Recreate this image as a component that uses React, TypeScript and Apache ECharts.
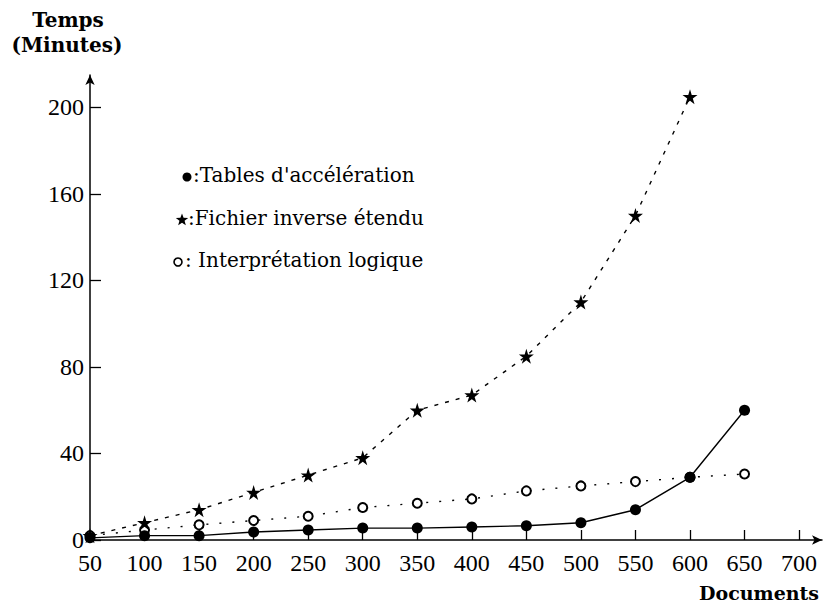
import React, { useEffect, useRef } from "react";
import * as echarts from "echarts";

const docs = [50, 100, 150, 200, 250, 300, 350, 400, 450, 500, 550, 600, 650];
const tablesAcceleration = [1, 2, 2, 3.7, 4.6, 5.5, 5.5, 6, 6.6, 8, 14, 29, 60];
const fichierInverse = [2, 8, 14, 22, 30, 38, 60, 67, 85, 110, 150, 205];
const interpretationLogique = [2, 4.6, 7, 9, 11, 15, 17, 19, 22.7, 25, 27, 29, 30.5];
const xTicks = [50, 100, 150, 200, 250, 300, 350, 400, 450, 500, 550, 600, 650, 700];
const yTicks = [0, 40, 80, 120, 160, 200];
const legendNames = [":Tables d'accélération", ":Fichier inverse étendu", ": Interprétation logique"];

const STAR = "path://M50,0 L61,35 L98,35 L68,57 L79,91 L50,70 L21,91 L32,57 L2,35 L39,35 Z";

function starPoints(cx: number, cy: number, R: number, r: number): number[][] {
  const pts: number[][] = [];
  for (let i = 0; i < 10; i++) {
    const a = -Math.PI / 2 + (i * Math.PI) / 5;
    const rad = i % 2 === 0 ? R : r;
    pts.push([cx + rad * Math.cos(a), cy + rad * Math.sin(a)]);
  }
  return pts;
}

export default function App() {
  const ref = useRef<HTMLDivElement>(null);
  useEffect(() => {
    if (!ref.current) return;
    const chart = echarts.init(ref.current, null, { renderer: "svg" });
    const tickFont = { fontFamily: "Liberation Serif", fontSize: 24, color: "#000" };
    const legStyle = { fontFamily: "DejaVu Serif", fontSize: 20, fill: "#000", verticalAlign: "middle" };
    const titleStyle = { fontFamily: "DejaVu Serif", fontWeight: "bold", fontSize: 20, fill: "#000", align: "center", verticalAlign: "middle" };
    chart.setOption({
      animation: false,
      backgroundColor: "#fff",
      grid: { left: 90, right: 5, top: 75, bottom: 68, containLabel: false, outerBoundsMode: "none" },
      xAxis: {
        type: "value",
        min: 50,
        max: 721,
        splitLine: { show: false },
        axisLine: {
          onZero: false,
          lineStyle: { color: "#000", width: 1.5 },
          symbol: ["none", "arrow"],
          symbolSize: [7, 10],
        },
        axisTick: { inside: true, length: 10, customValues: xTicks, lineStyle: { color: "#000", width: 1.3 } },
        axisLabel: { customValues: xTicks, margin: 11, ...tickFont },
      },
      yAxis: {
        type: "value",
        min: 0,
        max: 215,
        splitLine: { show: false },
        axisLine: {
          show: true,
          onZero: false,
          lineStyle: { color: "#000", width: 1.5 },
          symbol: ["none", "arrow"],
          symbolSize: [7, 10],
        },
        axisTick: { show: true, inside: true, length: 11, customValues: yTicks, lineStyle: { color: "#000", width: 1.3 } },
        axisLabel: { customValues: yTicks, margin: 6, ...tickFont },
      },
      series: [
        {
          name: "Interprétation logique",
          type: "line",
          data: docs.map((d, i) => [d, interpretationLogique[i]]),
          symbol: "emptyCircle",
          symbolSize: 9,
          showAllSymbol: true,
          lineStyle: { color: "#000", width: 1.4, type: [2, 11] },
          itemStyle: { color: "#000", borderColor: "#000", borderWidth: 1.6 },
          z: 2,
        },
        {
          name: "Fichier inverse étendu",
          type: "line",
          data: docs.slice(0, fichierInverse.length).map((d, i) => [d, fichierInverse[i]]),
          symbol: STAR,
          symbolSize: 15,
          lineStyle: { color: "#000", width: 1.4, type: [4, 7] },
          itemStyle: { color: "#000" },
          z: 3,
        },
        {
          name: "Tables d'accélération",
          type: "line",
          data: docs.map((d, i) => [d, tablesAcceleration[i]]),
          symbol: "circle",
          symbolSize: 11,
          lineStyle: { color: "#000", width: 1.4, type: "solid" },
          itemStyle: { color: "#000" },
          z: 4,
        },
      ],
      graphic: [
        { type: "text", x: 68, y: 20, style: { text: "Temps", ...titleStyle } },
        { type: "text", x: 67, y: 45, style: { text: "(Minutes)", ...titleStyle } },
        { type: "text", x: 759, y: 593, style: { text: "Documents", ...titleStyle, fontSize: 19 } },
        { type: "circle", shape: { cx: 187, cy: 177, r: 4.5 }, style: { fill: "#000" } },
        { type: "text", x: 193, y: 175, style: { text: legendNames[0], ...legStyle } },
        { type: "polygon", shape: { points: starPoints(182, 220, 6.5, 2.7) }, style: { fill: "#000" } },
        { type: "text", x: 188, y: 218, style: { text: legendNames[1], ...legStyle } },
        { type: "circle", shape: { cx: 178, cy: 262, r: 4 }, style: { fill: "#fff", stroke: "#000", lineWidth: 1.6 } },
        { type: "text", x: 185, y: 260, style: { text: legendNames[2], ...legStyle } },
      ],
    });
    return () => chart.dispose();
  }, []);
  return <div ref={ref} style={{ position: "absolute", left: 0, top: 0, width: 827, height: 608 }} />;
}
